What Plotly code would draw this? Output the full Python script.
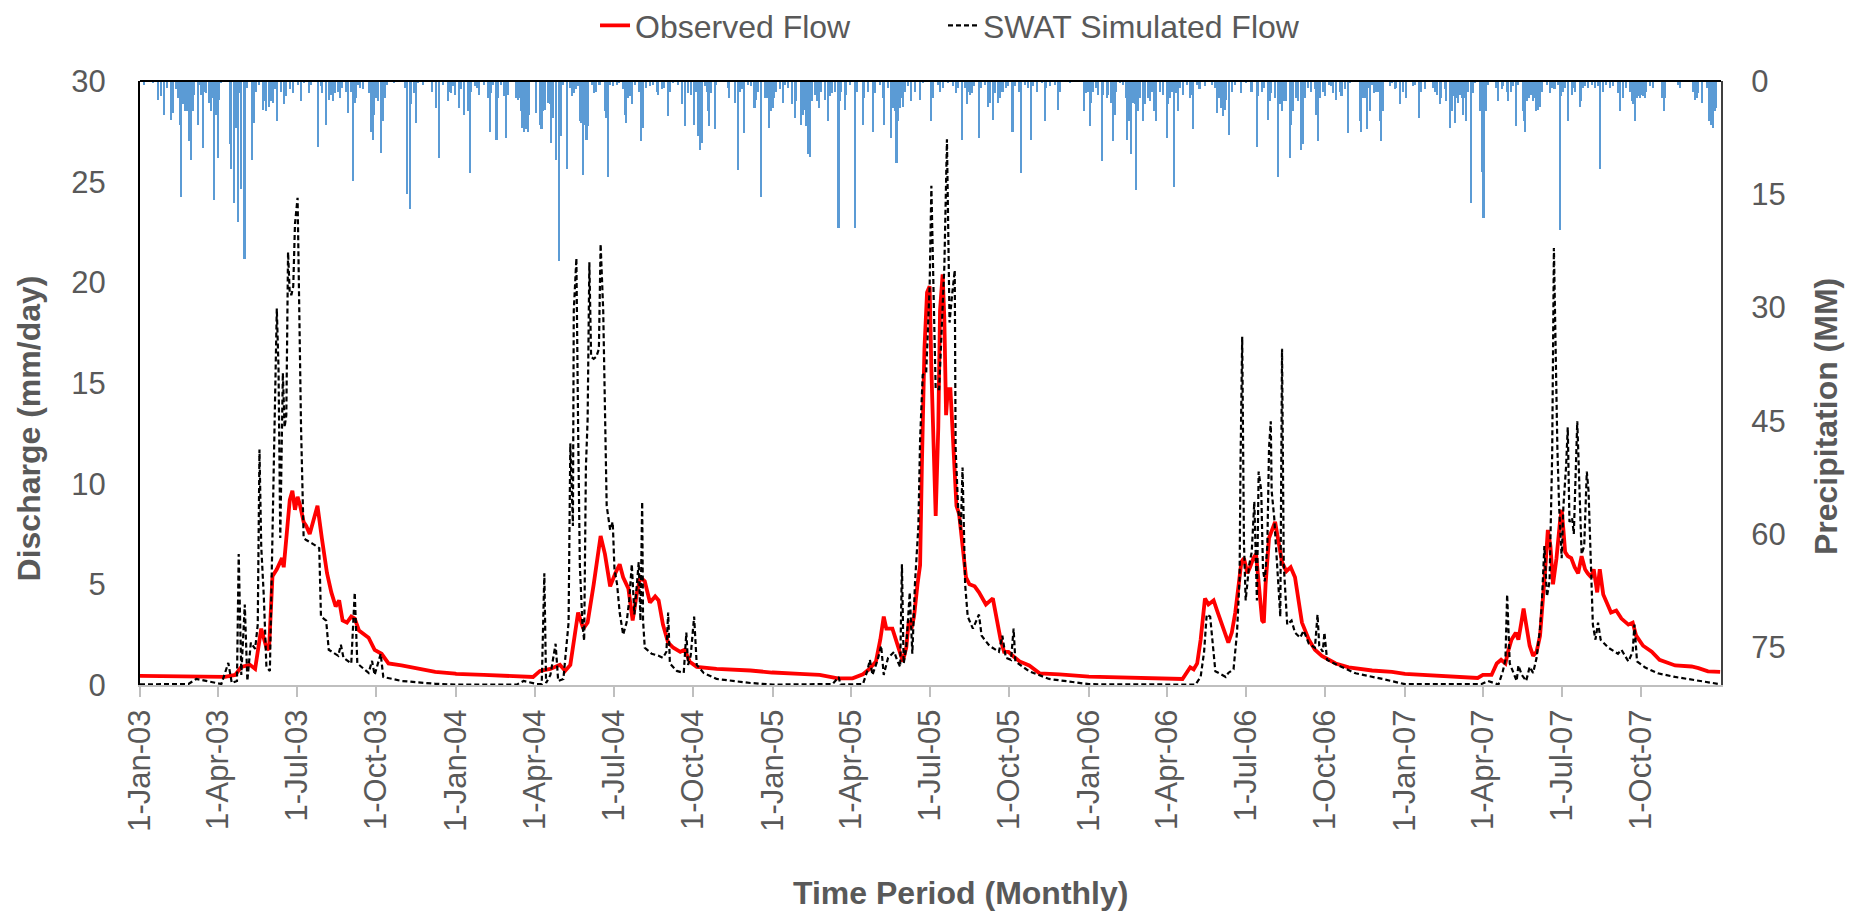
import pandas as pd
import plotly.graph_objects as go

# ---------------------------------------------------------------------------
# Daily series, stored as (day-of-year offset, value) pairs for each year.
# Discharge in mm/day, precipitation in mm.
# ---------------------------------------------------------------------------

observed_2003 = [(0, 0.45), (98, 0.40), (110, 0.50), (117, 0.90), (127, 1.0), (133, 0.80), (140, 2.8),
                 (146, 1.85), (149, 1.75), (153, 5.4), (158, 5.75), (164, 6.3), (166, 5.85), (169, 7.3),
                 (173, 9.2), (176, 9.65), (179, 8.7), (182, 9.35), (185, 8.9), (189, 8.1), (192, 7.9),
                 (196, 7.5), (200, 8.2), (205, 8.9), (210, 7.3), (216, 5.55), (221, 4.6), (226, 3.9),
                 (230, 4.2), (234, 3.2), (239, 3.1), (244, 3.4), (248, 3.3), (253, 2.7), (264, 2.35),
                 (271, 1.75), (279, 1.55), (287, 1.07), (302, 0.97), (321, 0.8), (341, 0.65), (364, 0.57)]
observed_2004 = [(0, 0.55), (32, 0.5), (89, 0.4), (97, 0.7), (109, 0.8), (120, 1.0), (126, 0.7), (132, 1.0),
                 (141, 3.6), (147, 2.8), (152, 3.1), (159, 5.0), (164, 6.6), (167, 7.4), (172, 6.5),
                 (178, 4.9), (184, 5.55), (189, 6.0), (193, 5.35), (199, 4.8), (204, 3.2), (209, 4.6),
                 (213, 5.35), (218, 5.15), (224, 4.1), (230, 4.4), (234, 4.2), (239, 3.0), (245, 2.1),
                 (251, 1.85), (259, 1.65), (264, 1.75), (270, 1.15), (278, 0.9), (301, 0.8), (340, 0.72),
                 (365, 0.62)]
observed_2005 = [(0, 0.62), (31, 0.55), (54, 0.5), (75, 0.33), (92, 0.33), (104, 0.53), (111, 0.78),
                 (119, 1.17), (124, 2.25), (128, 3.4), (131, 2.8), (138, 2.8), (142, 2.25), (146, 1.65),
                 (150, 1.17), (154, 1.85), (157, 3.2), (160, 2.8), (163, 3.4), (167, 5.0), (170, 5.95),
                 (172, 10.8), (175, 16.7), (178, 19.5), (181, 19.8), (183, 15.7), (186, 10.8), (188, 8.4),
                 (191, 12.8), (193, 18.6), (196, 20.4), (198, 18.2), (200, 13.4), (202, 14.7), (205, 14.7),
                 (208, 11.8), (212, 8.9), (215, 8.5), (219, 6.9), (223, 5.35), (227, 5.0), (233, 4.9),
                 (238, 4.6), (246, 4.0), (254, 4.3), (258, 3.4), (263, 2.25), (267, 1.65), (272, 1.65),
                 (277, 1.45), (285, 1.17), (296, 0.97), (308, 0.58), (331, 0.53), (350, 0.45), (364, 0.38)]
observed_2006 = [(0, 0.42), (108, 0.3), (113, 0.6), (117, 0.88), (121, 0.78), (125, 1.07), (129, 2.25),
                 (131, 3.2), (134, 4.3), (138, 4.0), (141, 4.1), (144, 4.2), (148, 3.7), (153, 3.1),
                 (158, 2.5), (161, 2.1), (165, 2.6), (169, 3.6), (173, 5.0), (176, 6.1), (179, 6.3),
                 (183, 5.55), (186, 5.85), (190, 6.3), (193, 6.5), (196, 5.0), (200, 3.2), (202, 3.1),
                 (204, 5.0), (208, 7.3), (211, 7.7), (215, 8.1), (219, 7.1), (223, 6.1), (228, 5.65),
                 (233, 5.85), (238, 5.35), (242, 4.2), (246, 3.1), (254, 2.25), (261, 1.75), (269, 1.45),
                 (285, 1.07), (300, 0.88), (327, 0.72), (350, 0.65), (364, 0.55)]
observed_2007 = [(0, 0.55), (84, 0.35), (90, 0.5), (100, 0.5), (106, 1.07), (111, 1.25), (116, 1.07),
                 (119, 1.65), (123, 2.25), (128, 2.6), (131, 2.25), (134, 3.0), (137, 3.8), (140, 3.0),
                 (144, 1.95), (148, 1.45), (152, 1.65), (156, 2.45), (160, 4.4), (162, 5.75), (165, 7.7),
                 (168, 6.9), (171, 5.0), (175, 6.3), (179, 8.1), (181, 8.7), (183, 7.7), (185, 6.6),
                 (188, 6.4), (192, 6.3), (196, 5.85), (200, 5.55), (204, 6.4), (208, 5.75), (211, 5.55),
                 (215, 5.35), (218, 5.75), (222, 4.6), (225, 5.75), (229, 4.5), (233, 4.1), (238, 3.6),
                 (244, 3.7), (250, 3.3), (258, 3.0), (263, 3.1), (267, 2.45), (275, 1.95), (285, 1.65),
                 (294, 1.25), (312, 0.97), (331, 0.92), (339, 0.84), (350, 0.68), (364, 0.65)]

simulated_2003 = [(0, 0.03), (56, 0.05), (65, 0.3), (94, 0.05), (102, 1.1), (106, 0.1), (112, 0.2),
                  (114, 6.5), (117, 0.5), (121, 4.0), (124, 0.2), (128, 2.1), (133, 1.8), (136, 3.0),
                  (138, 11.7), (140, 6.9), (143, 4.4), (146, 0.9), (150, 0.7), (152, 5.75), (158, 18.7),
                  (160, 15.7), (162, 7.3), (165, 15.5), (167, 12.8), (169, 13.4), (171, 21.5), (173, 19.4),
                  (175, 19.4), (177, 19.8), (179, 22.9), (182, 24.2), (184, 18.2), (186, 12.8), (189, 7.3),
                  (192, 7.2), (200, 7.0), (207, 6.8), (209, 3.4), (215, 3.2), (218, 1.75), (229, 1.45),
                  (232, 2.0), (235, 1.35), (244, 1.07), (248, 4.6), (251, 1.07), (264, 0.6), (268, 1.2),
                  (271, 0.5), (278, 1.55), (281, 0.4), (302, 0.2), (341, 0.06), (364, 0.02)]
simulated_2004 = [(0, 0.02), (70, 0.02), (78, 0.2), (93, 0.05), (99, 0.05), (102, 5.55), (104, 0.1),
                  (109, 0.5), (115, 2.05), (118, 0.2), (124, 0.3), (130, 3.1), (132, 12.0), (135, 7.9),
                  (136, 18.6), (139, 21.2), (141, 12.8), (143, 5.95), (146, 3.0), (148, 2.2), (150, 10.8),
                  (152, 13.2), (154, 21.0), (156, 16.3), (159, 16.2), (162, 16.3), (165, 16.7), (167, 21.9),
                  (170, 18.6), (172, 12.8), (174, 8.9), (178, 7.7), (181, 8.1), (183, 5.75), (186, 5.0),
                  (189, 3.6), (193, 2.5), (197, 3.1), (200, 4.2), (203, 6.0), (206, 3.5), (211, 6.1),
                  (213, 3.2), (215, 9.1), (216, 3.2), (218, 1.85), (226, 1.55), (234, 1.45), (239, 1.35),
                  (243, 1.65), (245, 3.6), (247, 1.07), (255, 0.7), (263, 0.6), (266, 2.6), (268, 1.0),
                  (271, 1.45), (275, 3.4), (278, 1.0), (286, 0.6), (301, 0.3), (340, 0.1), (365, 0.02)]
simulated_2005 = [(0, 0.02), (69, 0.05), (76, 0.4), (78, 0.02), (104, 0.05), (109, 0.7), (112, 1.25),
                  (115, 0.5), (121, 1.25), (125, 1.95), (128, 0.5), (133, 1.35), (140, 1.65), (144, 1.17),
                  (147, 0.9), (149, 6.0), (151, 1.07), (154, 1.85), (156, 3.0), (158, 4.6), (161, 1.55),
                  (164, 5.0), (168, 7.9), (170, 12.2), (173, 15.4), (177, 15.5), (181, 19.8), (183, 24.8),
                  (186, 18.6), (188, 14.7), (192, 14.7), (195, 18.2), (198, 20.8), (201, 27.1), (203, 18.6),
                  (204, 18.0), (207, 19.4), (210, 20.6), (211, 11.8), (214, 8.7), (217, 7.7), (219, 10.8),
                  (222, 5.0), (225, 3.4), (231, 2.8), (238, 3.5), (241, 2.45), (250, 1.95), (261, 1.65),
                  (265, 2.45), (269, 1.35), (275, 1.25), (278, 2.8), (280, 1.17), (296, 0.68), (319, 0.3),
                  (346, 0.15), (364, 0.05)]
simulated_2006 = [(0, 0.04), (123, 0.02), (129, 0.4), (133, 1.65), (136, 3.5), (140, 3.4), (143, 2.1),
                  (146, 0.68), (154, 0.5), (158, 0.4), (161, 0.6), (167, 0.78), (171, 2.6), (174, 5.35),
                  (175, 10.8), (177, 17.3), (179, 7.1), (181, 4.2), (185, 5.95), (188, 6.6), (191, 9.1),
                  (194, 4.2), (196, 10.6), (199, 9.65), (201, 5.75), (203, 5.15), (206, 6.9), (208, 11.8),
                  (210, 13.1), (211, 9.65), (214, 8.3), (216, 6.9), (218, 5.55), (221, 3.4), (223, 16.7),
                  (225, 5.95), (229, 3.0), (234, 3.2), (238, 2.6), (244, 2.35), (248, 2.7), (254, 2.05),
                  (261, 1.85), (264, 3.5), (266, 1.95), (270, 1.65), (272, 2.6), (275, 1.25), (288, 0.97),
                  (308, 0.58), (339, 0.3), (364, 0.04)]
simulated_2007 = [(0, 0.04), (88, 0.04), (96, 0.2), (108, 0.02), (113, 0.68), (116, 1.25), (118, 4.5),
                  (121, 1.07), (125, 0.68), (129, 0.2), (131, 0.97), (135, 0.5), (140, 0.2), (144, 0.9),
                  (148, 0.6), (152, 1.35), (156, 2.8), (158, 4.0), (161, 6.9), (164, 4.4), (167, 5.15),
                  (170, 11.4), (172, 21.7), (174, 16.1), (176, 11.8), (178, 8.9), (181, 6.3), (183, 8.9),
                  (186, 10.8), (188, 12.8), (190, 8.1), (193, 8.3), (195, 7.5), (199, 13.1), (202, 8.7),
                  (204, 6.5), (207, 6.9), (210, 10.6), (212, 9.65), (215, 5.35), (217, 3.0), (220, 2.25),
                  (223, 3.1), (226, 2.25), (235, 1.85), (246, 1.55), (250, 1.75), (258, 1.17), (263, 1.65),
                  (265, 3.0), (268, 1.17), (277, 0.88), (292, 0.58), (312, 0.4), (339, 0.2), (364, 0.04)]

precip_2003 = [(5, 0.5), (15, 0.3), (21, 2.5), (24, 1.4), (25, 2.0), (28, 4.5), (32, 0.9), (36, 5.1),
               (38, 4.2), (42, 1.1), (44, 2.25), (46, 5.8), (48, 15.3), (50, 3.1), (52, 4.0), (54, 4.0),
               (55, 2.9), (57, 8.0), (59, 10.4), (61, 4.0), (63, 1.8), (67, 5.8), (69, 0.5), (71, 1.8),
               (73, 8.9), (75, 1.4), (77, 1.6), (80, 2.9), (82, 4.0), (84, 2.25), (86, 15.8), (88, 4.5),
               (90, 10.2), (92, 2.5), (94, 0.3), (104, 8.4), (105, 11.7), (109, 16.1), (111, 6.2),
               (113, 18.7), (116, 1.6), (117, 14.3), (121, 23.6), (124, 0.9), (130, 10.4), (132, 5.6),
               (134, 1.4), (138, 0.5), (142, 3.8), (144, 2.7), (146, 4.0), (149, 3.4), (151, 2.7),
               (154, 2.9), (156, 1.1), (158, 5.3), (159, 2.25), (163, 1.4), (167, 3.1), (169, 2.0),
               (173, 1.1), (177, 1.6), (183, 0.5), (186, 2.7), (190, 0.3), (196, 1.6), (198, 0.5),
               (206, 8.7), (209, 0.7), (211, 1.6), (215, 5.8), (219, 2.5), (221, 1.8), (223, 2.7),
               (225, 1.6), (229, 1.4), (231, 2.25), (234, 0.9), (238, 1.4), (241, 4.2), (244, 1.4),
               (246, 13.2), (248, 2.9), (250, 2.25), (252, 0.5), (254, 0.9), (258, 1.1), (265, 1.6),
               (267, 6.7), (269, 7.8), (271, 4.5), (273, 2.25), (275, 2.7), (279, 9.5), (281, 5.3),
               (283, 2.25), (285, 0.5), (294, 0.3), (306, 0.9), (309, 15.0), (312, 16.9), (313, 3.1),
               (317, 1.6), (319, 5.6), (321, 0.3), (327, 0.5), (337, 1.4), (338, 0.3), (342, 3.6),
               (346, 10.2), (350, 0.5), (356, 2.7), (358, 1.4), (360, 1.6), (362, 0.7), (364, 1.8)]
precip_2004 = [(4, 3.6), (6, 1.1), (10, 4.5), (14, 4.0), (16, 12.2), (18, 1.4), (22, 0.7), (25, 0.9),
               (27, 1.8), (33, 0.5), (37, 2.25), (39, 6.7), (41, 1.6), (43, 0.5), (47, 7.8), (49, 2.25),
               (52, 0.5), (56, 2.0), (58, 7.5), (60, 1.8), (70, 2.25), (72, 2.5), (74, 2.25), (75, 4.0),
               (77, 6.2), (79, 6.7), (81, 6.4), (83, 6.7), (85, 4.5), (93, 4.2), (97, 5.8), (99, 6.4),
               (101, 4.0), (103, 3.8), (107, 2.9), (109, 3.1), (110, 8.2), (112, 4.9), (116, 10.4),
               (119, 23.9), (121, 7.3), (122, 1.4), (124, 0.5), (128, 11.7), (132, 0.9), (134, 2.0),
               (137, 1.6), (139, 1.1), (141, 0.7), (143, 5.3), (145, 5.6), (147, 12.5), (149, 5.8),
               (151, 7.8), (153, 6.0), (157, 0.5), (160, 1.6), (162, 1.4), (166, 0.5), (172, 4.0),
               (174, 4.9), (176, 12.7), (178, 0.5), (182, 0.7), (186, 0.5), (189, 0.3), (193, 1.1),
               (195, 4.5), (197, 5.6), (199, 2.25), (201, 2.0), (203, 3.1), (207, 0.5), (212, 1.4),
               (214, 8.0), (216, 6.2), (220, 0.9), (224, 0.7), (228, 0.5), (232, 1.4), (234, 1.8),
               (238, 1.1), (241, 0.9), (245, 4.7), (247, 1.4), (251, 0.3), (257, 0.5), (261, 3.1),
               (265, 6.0), (268, 1.6), (272, 1.8), (275, 5.8), (278, 1.4), (280, 7.3), (282, 9.1),
               (284, 8.2), (288, 0.7), (290, 1.4), (291, 4.0), (293, 6.0), (295, 1.6), (299, 6.4),
               (301, 0.5), (314, 0.9), (316, 2.25), (322, 2.9), (326, 11.8), (328, 1.4), (330, 1.1),
               (333, 6.9), (338, 0.5), (341, 0.7), (345, 3.6), (347, 2.5), (349, 1.4), (353, 15.3),
               (357, 2.25), (359, 2.25), (362, 6.2), (364, 4.0)]
precip_2005 = [(0, 3.6), (2, 2.25), (4, 1.4), (8, 1.1), (12, 2.9), (14, 0.5), (18, 0.9), (22, 3.1),
               (26, 4.9), (27, 2.7), (33, 5.8), (35, 4.5), (37, 3.8), (39, 6.0), (41, 9.7), (43, 10.0),
               (45, 2.7), (49, 1.8), (51, 2.7), (54, 3.6), (56, 1.4), (60, 2.5), (64, 5.3), (66, 2.0),
               (68, 1.6), (72, 1.4), (76, 19.5), (78, 2.7), (79, 1.4), (83, 3.8), (85, 1.8), (89, 0.5),
               (95, 19.5), (97, 1.4), (104, 5.8), (106, 2.25), (110, 1.4), (116, 6.7), (118, 1.6),
               (124, 0.5), (128, 2.25), (129, 5.8), (133, 0.9), (137, 7.5), (139, 3.6), (141, 4.0),
               (143, 10.9), (145, 5.3), (147, 3.6), (149, 2.25), (151, 3.4), (153, 1.4), (156, 0.7),
               (160, 2.7), (164, 1.4), (170, 2.5), (174, 0.3), (183, 5.3), (185, 2.25), (191, 0.5),
               (193, 1.4), (197, 0.9), (203, 0.3), (208, 0.7), (212, 1.6), (214, 0.9), (219, 7.8),
               (222, 0.9), (224, 3.1), (226, 1.4), (228, 1.8), (230, 1.6), (233, 0.7), (238, 7.5),
               (241, 0.9), (245, 0.5), (249, 3.4), (251, 2.9), (254, 5.1), (257, 1.6), (260, 2.9),
               (262, 2.25), (264, 1.4), (266, 1.4), (269, 0.9), (272, 0.7), (277, 6.7), (280, 0.7),
               (284, 1.4), (287, 12.2), (291, 0.5), (295, 0.9), (298, 7.8), (301, 0.7), (305, 1.4),
               (311, 0.3), (314, 5.3), (316, 0.9), (320, 0.7), (326, 0.5), (330, 3.8), (332, 1.4),
               (343, 0.3), (360, 4.0), (362, 1.6), (364, 1.4)]
precip_2006 = [(1, 6.0), (3, 2.9), (5, 1.4), (9, 0.9), (11, 1.8), (15, 10.6), (17, 1.8), (21, 2.25),
               (22, 1.8), (26, 2.9), (28, 8.0), (30, 4.5), (32, 1.4), (36, 0.3), (40, 0.5), (43, 2.25),
               (44, 7.8), (47, 5.3), (49, 9.7), (51, 2.9), (53, 3.1), (55, 14.5), (57, 4.0), (59, 2.25),
               (63, 5.3), (65, 3.1), (69, 2.25), (71, 2.7), (73, 1.4), (76, 4.0), (78, 5.3), (82, 1.4),
               (86, 1.8), (90, 7.5), (92, 3.1), (94, 2.25), (96, 1.4), (99, 14.0), (101, 1.6), (103, 4.0),
               (105, 0.9), (109, 1.8), (113, 0.5), (117, 2.25), (119, 1.8), (121, 6.4), (125, 0.5),
               (128, 1.1), (134, 0.7), (142, 0.5), (146, 0.9), (148, 4.2), (150, 1.8), (151, 2.25),
               (153, 3.6), (155, 4.7), (157, 3.8), (159, 2.5), (162, 7.1), (165, 1.4), (169, 0.5),
               (176, 1.6), (182, 0.3), (188, 1.4), (194, 8.7), (196, 2.0), (200, 1.4), (203, 0.9),
               (207, 5.1), (209, 2.7), (211, 1.6), (215, 2.25), (219, 12.7), (221, 3.1), (223, 4.0),
               (225, 2.7), (227, 2.25), (228, 2.7), (232, 10.2), (234, 5.8), (236, 4.0), (240, 2.25),
               (242, 2.7), (245, 9.1), (247, 8.4), (250, 2.25), (253, 0.9), (257, 1.4), (261, 1.1),
               (263, 4.5), (265, 8.0), (267, 2.25), (271, 1.4), (273, 2.0), (277, 0.5), (280, 0.7),
               (282, 1.6), (286, 2.5), (290, 1.4), (292, 2.0), (296, 1.1), (299, 6.9), (302, 0.3),
               (313, 5.3), (315, 6.7), (317, 2.25), (319, 2.25), (321, 6.4), (323, 0.9), (325, 4.0),
               (327, 0.5), (330, 1.6), (332, 1.4), (334, 1.4), (336, 5.3), (338, 8.0), (340, 4.0),
               (348, 0.7), (350, 0.3), (354, 1.1), (355, 0.9), (359, 3.1), (363, 1.4)]
precip_2007 = [(2, 2.25), (10, 0.7), (12, 0.5), (17, 4.9), (19, 1.4), (23, 1.1), (33, 0.9), (35, 1.4),
               (37, 1.8), (41, 3.1), (42, 2.25), (46, 1.1), (48, 2.7), (52, 6.2), (54, 4.0), (56, 2.0),
               (58, 5.6), (60, 2.25), (62, 2.9), (64, 1.8), (66, 2.25), (67, 4.5), (69, 2.25), (71, 5.3),
               (73, 1.4), (77, 16.1), (79, 1.6), (81, 0.3), (87, 4.0), (89, 12.0), (91, 18.2), (92, 2.7),
               (94, 4.0), (96, 0.5), (106, 0.9), (108, 2.7), (112, 1.1), (114, 0.7), (118, 1.4),
               (119, 2.7), (123, 1.4), (125, 0.7), (128, 6.0), (131, 0.5), (137, 4.0), (138, 5.3),
               (139, 6.7), (141, 2.7), (143, 2.25), (144, 2.0), (146, 1.8), (148, 2.7), (150, 2.25),
               (152, 4.0), (154, 3.8), (156, 3.4), (158, 1.4), (164, 0.5), (168, 1.6), (170, 0.9),
               (173, 1.1), (177, 0.5), (179, 19.7), (181, 2.0), (183, 1.4), (185, 0.9), (189, 5.3),
               (193, 1.8), (195, 0.9), (197, 1.4), (202, 3.4), (204, 2.7), (206, 0.9), (208, 0.7),
               (212, 0.9), (216, 0.5), (220, 0.9), (223, 0.7), (226, 11.7), (229, 1.4), (233, 0.5),
               (237, 0.9), (241, 0.7), (246, 1.6), (249, 4.0), (252, 2.25), (256, 0.9), (260, 1.4),
               (262, 2.7), (264, 3.1), (266, 5.3), (268, 2.25), (270, 2.0), (272, 2.25), (273, 1.8),
               (275, 2.0), (277, 2.25), (279, 1.4), (283, 0.7), (287, 0.9), (297, 2.25), (299, 4.0),
               (300, 2.25), (316, 0.5), (318, 0.9), (333, 1.4), (335, 2.5), (337, 2.25), (339, 1.6),
               (343, 2.9), (349, 0.9), (352, 5.3), (354, 5.8), (356, 6.2), (358, 4.0), (360, 3.6)]

# Quarterly tick positions and their labels
tick_dates = ["2003-01-01", "2003-04-01", "2003-07-01", "2003-10-01",
              "2004-01-01", "2004-04-01", "2004-07-01", "2004-10-01",
              "2005-01-01", "2005-04-01", "2005-07-01", "2005-10-01",
              "2006-01-01", "2006-04-01", "2006-07-01", "2006-10-01",
              "2007-01-01", "2007-04-01", "2007-07-01", "2007-10-01"]
tick_labels = ["1-Jan-03", "1-Apr-03", "1-Jul-03", "1-Oct-03",
               "1-Jan-04", "1-Apr-04", "1-Jul-04", "1-Oct-04",
               "1-Jan-05", "1-Apr-05", "1-Jul-05", "1-Oct-05",
               "1-Jan-06", "1-Apr-06", "1-Jul-06", "1-Oct-06",
               "1-Jan-07", "1-Apr-07", "1-Jul-07", "1-Oct-07"]
precip_ticks = [0, 15, 30, 45, 60, 75]


def to_series(by_year):
    """Turn {year: [(day_offset, value), ...]} into date / value lists."""
    dates, values = [], []
    for year, pairs in by_year.items():
        start = pd.Timestamp(f"{year}-01-01")
        for day, val in pairs:
            dates.append(start + pd.Timedelta(days=day))
            values.append(val)
    return dates, values


obs_x, obs_y = to_series({2003: observed_2003, 2004: observed_2004, 2005: observed_2005,
                          2006: observed_2006, 2007: observed_2007})
sim_x, sim_y = to_series({2003: simulated_2003, 2004: simulated_2004, 2005: simulated_2005,
                          2006: simulated_2006, 2007: simulated_2007})
pcp_x, pcp_y = to_series({2003: precip_2003, 2004: precip_2004, 2005: precip_2005,
                          2006: precip_2006, 2007: precip_2007})

FONT = "Liberation Sans, Arial, sans-serif"
GREY = "#595959"
DAY_MS = 86400000

fig = go.Figure()

# Precipitation hangs from the top on the (reversed) right-hand axis
fig.add_trace(go.Bar(
    x=pcp_x, y=pcp_y, yaxis="y", width=1.8 * DAY_MS,
    marker=dict(color="#5B9BD5", line=dict(width=0)),
    showlegend=False, name="Precipitation",
))

# Discharge lines on the left-hand axis, drawn above the bars
fig.add_trace(go.Scatter(
    x=obs_x, y=obs_y, yaxis="y2", mode="lines", name="Observed Flow",
    line=dict(color="#FF0000", width=3.8), legend="legend",
))
fig.add_trace(go.Scatter(
    x=sim_x, y=sim_y, yaxis="y2", mode="lines", name="SWAT Simulated Flow",
    line=dict(color="#000000", width=2.2, dash="5px,3px"), legend="legend2",
))

title_font = dict(family=FONT, size=32, color=GREY)
legend_common = dict(orientation="h", xanchor="left", yref="container", y=0.972, yanchor="middle",
                     font=dict(size=32, color=GREY), bgcolor="rgba(0,0,0,0)")

fig.update_layout(
    width=1861, height=916,
    margin=dict(l=140, r=140, t=81, b=231, pad=0, autoexpand=False),
    paper_bgcolor="white", plot_bgcolor="white",
    font=dict(family=FONT, color=GREY, size=31),
    bargap=0,
    legend=dict(x=0.2878, **legend_common),
    legend2=dict(x=0.5079, **legend_common),
    xaxis=dict(
        type="date", range=["2003-01-01", "2008-01-01"],
        tickmode="array", tickvals=tick_dates, ticktext=tick_labels,
        tickangle=-90, tickfont=dict(size=31, color=GREY),
        ticks="outside", ticklen=10, tickcolor="#BFBFBF", tickwidth=2,
        showline=True, linecolor="#BFBFBF", linewidth=2,
        showgrid=False, zeroline=False,
    ),
    yaxis=dict(
        side="right", range=[80, 0],
        tickmode="array", tickvals=precip_ticks,
        tickfont=dict(size=31, color=GREY),
        showline=True, linecolor="#404040", linewidth=2,
        showgrid=False, zeroline=False, ticks="", ticklabelstandoff=22,
    ),
    yaxis2=dict(
        side="left", overlaying="y", range=[0, 30], dtick=5,
        tickfont=dict(size=31, color=GREY),
        showline=True, linecolor="#000000", linewidth=2,
        showgrid=False, zeroline=False, ticks="", ticklabelstandoff=26,
    ),
    shapes=[dict(type="line", xref="paper", yref="paper", x0=0, x1=1, y0=1, y1=1,
                 line=dict(color="#000000", width=2))],
    annotations=[
        dict(text="<b>Discharge (mm/day)</b>", xref="paper", yref="paper", x=-0.0696, y=0.4247,
             textangle=-90, showarrow=False, xanchor="center", yanchor="middle", font=title_font),
        dict(text="<b>Precipitation (MM)</b>", xref="paper", yref="paper", x=1.0661, y=0.4444,
             textangle=-90, showarrow=False, xanchor="center", yanchor="middle", font=title_font),
        dict(text="<b>Time Period (Monthly)</b>", xref="paper", yref="paper", x=0.5187, y=-0.3444,
             showarrow=False, xanchor="center", yanchor="middle", font=title_font),
    ],
)

fig.write_html("out.html")
